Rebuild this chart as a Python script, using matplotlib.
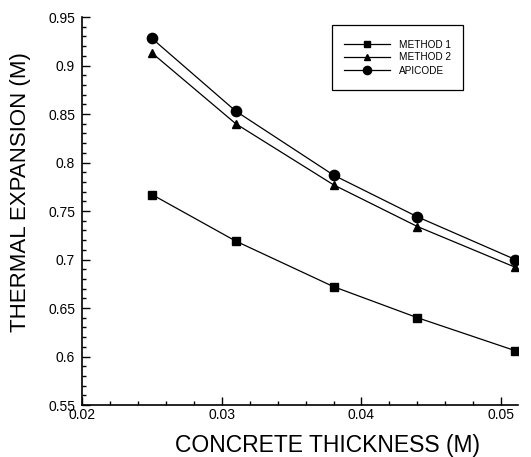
import matplotlib
matplotlib.use("Agg")
import matplotlib.pyplot as plt
from matplotlib.ticker import MultipleLocator, FixedFormatter, FixedLocator
from matplotlib.patches import Rectangle

plt.rcParams['font.family'] = ['Liberation Sans', 'DejaVu Sans']

thickness = [0.025, 0.031, 0.038, 0.044, 0.051]
method1 = [0.767, 0.719, 0.672, 0.640, 0.606]
method2 = [0.913, 0.840, 0.777, 0.734, 0.692]
apicode = [0.928, 0.853, 0.787, 0.744, 0.700]

W, H = 531, 457
fig = plt.figure(figsize=(W / 100, H / 100), dpi=100)
ax = fig.add_axes([82 / W, 1 - 405 / H, 436 / W, 388 / H])

ax.plot(thickness, method1, color='black', lw=0.9, marker='s', ms=5.6, label='METHOD 1')
ax.plot(thickness, method2, color='black', lw=0.9, marker='^', ms=6.2, label='METHOD 2')
ax.plot(thickness, apicode, color='black', lw=0.9, marker='o', ms=7.4, label='APICODE')

ax.set_xlim(0.02, 0.0512)
ax.set_ylim(0.55, 0.95)
ax.xaxis.set_major_locator(FixedLocator([0.02, 0.03, 0.04, 0.05]))
ax.xaxis.set_major_formatter(FixedFormatter(['0.02', '0.03', '0.04', '0.05']))
ax.xaxis.set_minor_locator(MultipleLocator(0.002))
yt = [0.55, 0.6, 0.65, 0.7, 0.75, 0.8, 0.85, 0.9, 0.95]
ax.yaxis.set_major_locator(FixedLocator(yt))
ax.yaxis.set_major_formatter(FixedFormatter(['0.55', '0.6', '0.65', '0.7', '0.75', '0.8', '0.85', '0.9', '0.95']))
ax.yaxis.set_minor_locator(MultipleLocator(0.01))

ax.tick_params(which='both', direction='in', width=1.0, labelsize=10)
ax.tick_params(which='major', length=6)
ax.tick_params(which='minor', length=3)
ax.tick_params(axis='x', pad=2)
ax.tick_params(axis='y', pad=5)

for s in ['top', 'right']:
    ax.spines[s].set_visible(False)
for s in ['left', 'bottom']:
    ax.spines[s].set_linewidth(1.2)

ax.set_xlabel('CONCRETE THICKNESS (M)', fontsize=16.5)
ax.xaxis.set_label_coords(0.564, -0.076)
ax.set_ylabel('THERMAL EXPANSION (M)', fontsize=16)
ax.yaxis.set_label_coords(-0.117, 0.55)

leg = ax.legend(loc='center', bbox_to_anchor=(397.5 / W, 1 - 57.5 / H),
                bbox_transform=fig.transFigure, fontsize=7.2, frameon=False,
                handlelength=4.6, borderpad=0, labelspacing=0.3,
                handletextpad=0.9, markerscale=0.8)

fig.patches.append(Rectangle((332 / W, 1 - 90 / H), 131 / W, 65 / H,
                             transform=fig.transFigure, fill=False,
                             edgecolor='black', lw=0.9))

fig.savefig('out.png', dpi=100)
